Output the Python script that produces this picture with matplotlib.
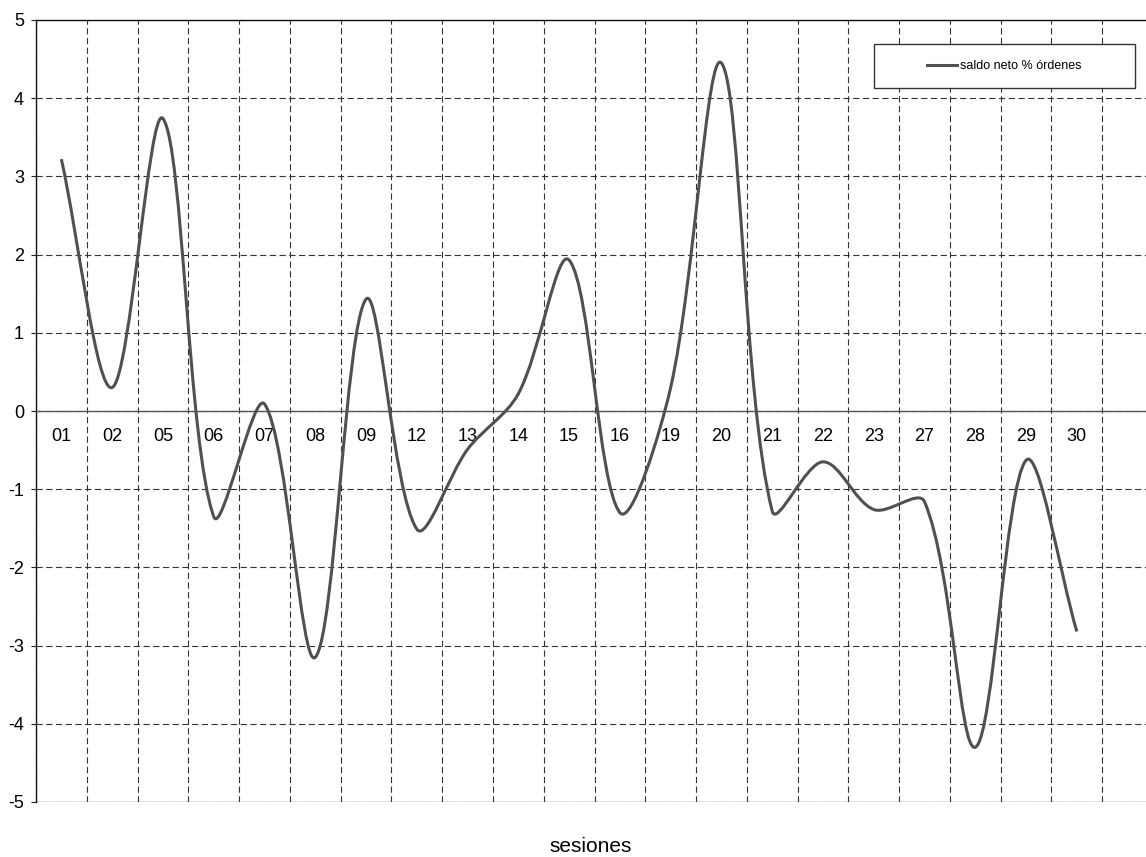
import matplotlib
matplotlib.use("Agg")
import matplotlib.pyplot as plt
from matplotlib.path import Path
from matplotlib.patches import PathPatch, Rectangle
from matplotlib.lines import Line2D
import numpy as np

plt.rcParams['font.family'] = ['Liberation Sans', 'DejaVu Sans']
plt.rcParams['axes.unicode_minus'] = False
plt.rcParams['lines.scale_dashes'] = False

sesiones = ["01", "02", "05", "06", "07", "08", "09", "12", "13", "14", "15",
            "16", "19", "20", "21", "22", "23", "27", "28", "29", "30"]
saldo = [3.22, 0.30, 3.74, -1.35, 0.09, -3.15, 1.43, -1.51, -0.49, 0.22, 1.93,
         -1.30, 0.30, 4.45, -1.28, -0.65, -1.26, -1.16, -4.30, -0.63, -2.82]
yticks = [-5, -4, -3, -2, -1, 0, 1, 2, 3, 4, 5]
serie_label = "saldo neto % órdenes"

W, H = 1146, 857
fig = plt.figure(figsize=(W / 100, H / 100), dpi=100)
ax = fig.add_axes([36 / W, (H - 802) / H, 1117 / W, 782 / H])

line_color = '#505050'
grid_kw = dict(color='#333333', linewidth=0.8, linestyle=(0, (4.5, 2.5)))

ax.set_xlim(-0.5, 21.5)
ax.set_ylim(-5, 5)

# smooth (Excel-like) Bezier curve through the data points,
# tangents weighted by segment lengths in display space
x = np.arange(len(saldo), dtype=float)
y = np.array(saldo, dtype=float)
n = len(x)
sx, sy = 1117 / 22.0, 782 / 10.0
P = np.column_stack([x, y])
def dist(a, b):
    return np.hypot((a[0] - b[0]) * sx, (a[1] - b[1]) * sy)
verts = [(x[0], y[0])]
codes = [Path.MOVETO]
for i in range(n - 1):
    p0 = P[max(i - 1, 0)]
    p1 = P[i]
    p2 = P[i + 1]
    p3 = P[min(i + 2, n - 1)]
    d01, d12, d23 = dist(p0, p1), dist(p1, p2), dist(p2, p3)
    c1 = p1 + (p2 - p0) * d12 / (d01 + d12) / 3.0
    c2 = p2 - (p3 - p1) * d12 / (d12 + d23) / 3.0
    verts += [tuple(c1), tuple(c2), tuple(p2)]
    codes += [Path.CURVE4] * 3
patch = PathPatch(Path(verts, codes), facecolor='none', edgecolor=line_color,
                  linewidth=2.2, zorder=5, capstyle='butt', joinstyle='round')
ax.add_patch(patch)

# ticks
ax.set_xticks(range(len(sesiones)))
ax.set_xticklabels(sesiones)
ax.set_xticks(np.arange(-0.5, 22, 1.0), minor=True)
ax.tick_params(axis='x', which='both', length=0, pad=12, labelsize=13)
ax.set_yticks(yticks)
ax.set_yticklabels([str(v) for v in yticks])
ax.tick_params(axis='y', which='major', length=3.6, width=0.8, pad=5,
               color='#222222', labelsize=13)

ax.grid(which='minor', axis='x', **grid_kw)
ax.grid(which='major', axis='y', **grid_kw)
ax.grid(which='major', axis='x', visible=False)
ax.set_axisbelow(True)

# spines
ax.spines['bottom'].set_position(('data', 0))
ax.spines['bottom'].set_color('#555555')
ax.spines['bottom'].set_linewidth(1.0)
ax.spines['bottom'].set_zorder(3)
ax.spines['left'].set_color('#111111')
ax.spines['left'].set_linewidth(1.0)
ax.spines['top'].set_color('#111111')
ax.spines['top'].set_linewidth(1.0)
ax.spines['right'].set_visible(False)
ax.axhline(-5, color='#9a9a9a', linewidth=1.0, zorder=0.5)

# legend
ax.add_patch(Rectangle((0.750, 0.913), 0.234, 0.056, transform=ax.transAxes,
                       facecolor='white', edgecolor='#333333', linewidth=1.0, zorder=6))
handle = Line2D([], [], color=line_color, linewidth=2.2)
leg = ax.legend([handle], [serie_label], loc='center', bbox_to_anchor=(0.867, 0.941),
                frameon=False, fontsize=9, handlelength=2.4, handletextpad=0.2,
                borderpad=0)
leg.set_zorder(7)

fig.text(591 / W, 1 - 846 / H, "sesiones", fontsize=15, ha='center', va='center')

fig.savefig("out.png", dpi=100)
